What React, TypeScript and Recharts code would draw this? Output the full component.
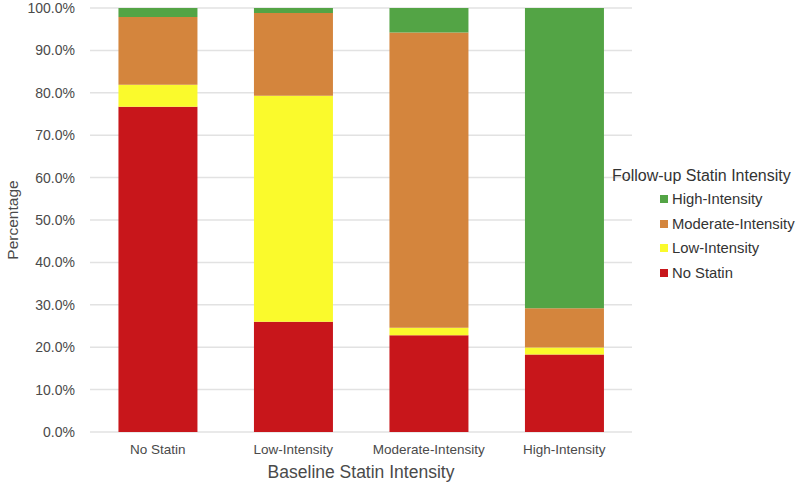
import React from 'react';
import { BarChart, Bar, XAxis, YAxis, CartesianGrid } from 'recharts';

const categories = ['No Statin', 'Low-Intensity', 'Moderate-Intensity', 'High-Intensity'];
const noStatin = [76.7, 26.0, 22.8, 18.3];
const lowIntensity = [5.2, 53.3, 1.8, 1.6];
const moderateIntensity = [16.0, 19.5, 69.6, 9.3];
const highIntensity = [2.1, 1.2, 5.8, 70.8];
const yTicks = [0, 10, 20, 30, 40, 50, 60, 70, 80, 90, 100];

const seriesNames = ['No Statin', 'Low-Intensity', 'Moderate-Intensity', 'High-Intensity'];
const seriesKeys = ['noStatin', 'low', 'moderate', 'high'];
const seriesColors = ['#C8161B', '#FAFA2C', '#D4853D', '#53A445'];

const data = categories.map((c, i) => ({
  name: c,
  noStatin: noStatin[i],
  low: lowIntensity[i],
  moderate: moderateIntensity[i],
  high: highIntensity[i],
}));

const FONT = '"Liberation Sans", Arial, Helvetica, sans-serif';

export default function App() {
  const legendOrder = [3, 2, 1, 0];
  return (
    <div style={{ position: 'absolute', left: 0, top: 0, width: 800, height: 484, fontFamily: FONT, background: '#fff' }}>
      <BarChart
        width={800}
        height={484}
        data={data}
        margin={{ top: 8, right: 168, bottom: 0, left: 0 }}
        barCategoryGap="21%"
      >
        <CartesianGrid horizontal vertical={false} stroke="#e2e2e2" strokeWidth={1.5} />
        <XAxis
          dataKey="name"
          axisLine={false}
          tickLine={false}
          tickSize={0}
          tickMargin={12}
          height={52}
          tick={{ fill: '#4a4a4a', fontSize: 13.5, fontFamily: FONT }}
          label={{ value: 'Baseline Statin Intensity', position: 'insideBottom', offset: 6, fill: '#4a4a4a', fontSize: 17.5, fontFamily: FONT }}
        />
        <YAxis
          type="number"
          domain={[0, 100]}
          ticks={yTicks}
          interval={0}
          width={90}
          axisLine={false}
          tickLine={false}
          tickSize={0}
          tickMargin={15}
          tickFormatter={(v: number) => v.toFixed(1) + '%'}
          tick={{ fill: '#4a4a4a', fontSize: 14, fontFamily: FONT }}
          label={{ value: 'Percentage', angle: -90, position: 'insideLeft', offset: 12, fill: '#4a4a4a', fontSize: 15.5, fontFamily: FONT, style: { textAnchor: 'middle' } }}
        />
        {seriesKeys.map((k, i) => (
          <Bar key={k} dataKey={k} name={seriesNames[i]} stackId="a" fill={seriesColors[i]} isAnimationActive={false} />
        ))}
      </BarChart>
      <div style={{ position: 'absolute', left: 612, top: 166, color: '#333', fontFamily: FONT, lineHeight: '20px' }}>
        <div style={{ fontSize: 16, marginBottom: 1 }}>Follow-up Statin Intensity</div>
        {legendOrder.map((i) => (
          <div key={i} style={{ display: 'flex', alignItems: 'center', marginLeft: 48, height: 24.5, fontSize: 14.8 }}>
            <span style={{ display: 'inline-block', width: 8, height: 8, background: seriesColors[i], marginRight: 4 }} />
            <span>{seriesNames[i]}</span>
          </div>
        ))}
      </div>
    </div>
  );
}
